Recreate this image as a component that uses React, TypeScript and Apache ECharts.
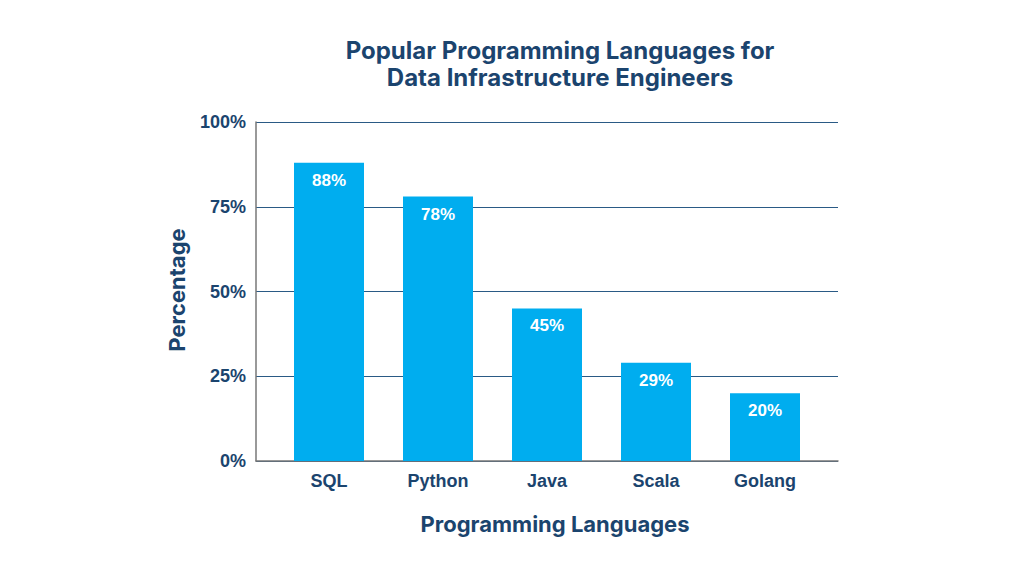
import React, { useEffect, useRef } from "react";
import * as echarts from "echarts";

const categories = ["SQL", "Python", "Java", "Scala", "Golang"];
const values = [88, 78, 45, 29, 20];
const yTicks = [0, 25, 50, 75, 100];

const NAVY = "#1b446e";
const BAR = "#00adef";

export default function App() {
  const ref = useRef<HTMLDivElement>(null);
  useEffect(() => {
    if (!ref.current) return;
    const chart = echarts.init(ref.current, null, { renderer: "svg" });
    chart.setOption({
      animation: false,
      backgroundColor: "#ffffff",
      title: {
        text: "Popular Programming Languages for\nData Infrastructure Engineers",
        left: 555,
        top: 32,
        textAlign: "center",
        textStyle: {
          fontFamily: "Inter",
          fontWeight: "bold",
          fontSize: 24,
          lineHeight: 27,
          color: NAVY,
        },
      },
      grid: [
        { left: 256, right: 186, top: 122, bottom: 115 },
        { left: 274.5, right: 204.5, top: 122, bottom: 115 },
      ],
      xAxis: [
        {
          gridIndex: 0,
          type: "value",
          min: 0,
          max: 1,
          axisLine: { show: true, lineStyle: { color: "#777777", width: 1.5 } },
          axisTick: { show: false },
          axisLabel: { show: false },
          splitLine: { show: false },
        },
        {
          gridIndex: 1,
          type: "category",
          data: categories,
          axisLine: { show: false },
          axisTick: { show: false },
          axisLabel: {
            margin: 11,
            fontFamily: "Liberation Sans",
            fontWeight: "bold",
            fontSize: 18,
            color: NAVY,
          },
        },
      ],
      yAxis: [
        {
          gridIndex: 0,
          type: "value",
          min: 0,
          max: 100,
          interval: 25,
          axisLine: { show: true, lineStyle: { color: "#777777", width: 1.5 } },
          axisTick: { show: false },
          axisLabel: {
            margin: 10,
            fontFamily: "Liberation Sans",
            fontWeight: "bold",
            fontSize: 18,
            color: NAVY,
            formatter: (v: number) => (yTicks.includes(v) ? v + "%" : ""),
          },
          splitLine: { show: true, lineStyle: { color: "#2a5a85", width: 1.2 } },
        },
        {
          gridIndex: 1,
          type: "value",
          min: 0,
          max: 100,
          show: false,
        },
      ],
      graphic: [
        {
          type: "text",
          x: 555,
          y: 524,
          style: {
            text: "Programming Languages",
            font: "bold 22px Inter",
            fill: NAVY,
            align: "center",
            verticalAlign: "middle",
          },
        },
        {
          type: "text",
          x: 177,
          y: 290,
          rotation: Math.PI / 2,
          style: {
            text: "Percentage",
            font: "bold 22px Inter",
            fill: NAVY,
            align: "center",
            verticalAlign: "middle",
          },
        },
      ],
      series: [
        {
          type: "bar",
          xAxisIndex: 1,
          yAxisIndex: 1,
          data: values,
          barWidth: 70,
          itemStyle: { color: BAR },
          label: {
            show: true,
            position: "insideTop",
            distance: 9,
            formatter: "{c}%",
            fontFamily: "Liberation Sans",
            fontWeight: "bold",
            fontSize: 17,
            color: "#ffffff",
          },
        },
      ],
    });
    return () => chart.dispose();
  }, []);
  return <div ref={ref} style={{ width: 1024, height: 576, margin: -8 }} />;
}
